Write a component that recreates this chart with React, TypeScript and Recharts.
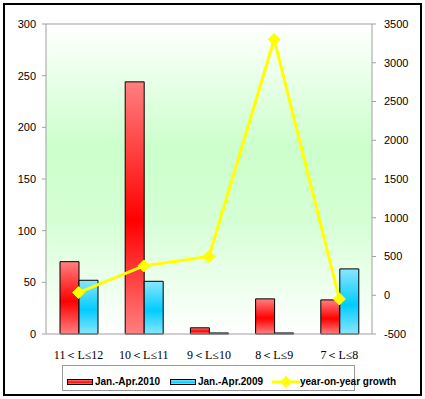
import {
  ComposedChart, Bar, Line, XAxis, YAxis, CartesianGrid, ReferenceLine,
} from "recharts";

const categories = ["11＜L≤12", "10＜L≤11", "9＜L≤10", "8＜L≤9", "7＜L≤8"];
const sales2010 = [70, 244, 6, 34, 33];
const sales2009 = [52, 51, 1, 1, 63];
const growth = [34.6, 378.4, 500, 3300, -47.6];
const leftTicks = [0, 50, 100, 150, 200, 250, 300];
const rightTicks = [-500, 0, 500, 1000, 1500, 2000, 2500, 3000, 3500];

const data = categories.map((name, i) => ({
  name,
  y2010: sales2010[i],
  y2009: sales2009[i],
  growth: growth[i],
}));

const axisColor = "#a0a0a0";
const tickFont = { fontSize: 11, fill: "#000", fontFamily: "Liberation Sans, Arial, sans-serif" };

function Diamond(props: any) {
  const { cx, cy } = props;
  if (cx == null || cy == null) return null;
  const s = 6;
  return (
    <polygon
      points={`${cx},${cy - s} ${cx + s},${cy} ${cx},${cy + s} ${cx - s},${cy}`}
      fill="#ffff00"
      stroke="#ffff00"
    />
  );
}

function LegendBox() {
  const text = {
    position: "absolute" as const,
    top: 376,
    fontFamily: "Liberation Sans, Arial, sans-serif",
    fontSize: 10,
    lineHeight: "12px",
    fontWeight: 700,
    color: "#000",
    whiteSpace: "nowrap" as const,
  };
  const swatch = {
    position: "absolute" as const, top: 379, width: 26, height: 6,
    border: "1px solid #000", boxSizing: "border-box" as const,
  };
  return (
    <>
      <div
        style={{
          position: "absolute", left: 62, top: 365, width: 293, height: 26,
          border: "1px solid #999", boxSizing: "border-box",
        }}
      />
      <div style={{ ...swatch, left: 67, background: "linear-gradient(#ff8080, #ff0000 55%, #ff8080)" }} />
      <span style={{ ...text, left: 95 }}>Jan.-Apr.2010</span>
      <div style={{ ...swatch, left: 170, background: "linear-gradient(#80e6ff, #00ccff 55%, #80e6ff)" }} />
      <span style={{ ...text, left: 198 }}>Jan.-Apr.2009</span>
      <svg width={28} height={12} style={{ position: "absolute", left: 272, top: 376 }}>
        <line x1={0} y1={6} x2={28} y2={6} stroke="#ffff00" strokeWidth={3} />
        <polygon points="14,0 20,6 14,12 8,6" fill="#ffff00" />
      </svg>
      <span style={{ ...text, left: 300 }}>year-on-year growth</span>
    </>
  );
}

export default function App() {
  return (
    <div style={{ position: "fixed", left: 0, top: 0, width: 425, height: 399, background: "#fff" }}>
      <div
        style={{
          position: "absolute", left: 3, top: 3, width: 419, height: 393,
          border: "2px solid #000", boxSizing: "border-box",
        }}
      />
      <div style={{ position: "absolute", left: 0, top: 0 }}>
        <ComposedChart
          width={425}
          height={399}
          data={data}
          margin={{ top: 24, right: 0, bottom: 35, left: 0 }}
          barGap={0}
          barSize={19}
        >
          <defs>
            <linearGradient id="bgGrad" x1="0" y1="0" x2="0" y2="1">
              <stop offset="0%" stopColor="#ffffff" />
              <stop offset="40%" stopColor="#ccffcc" />
              <stop offset="62%" stopColor="#d4ffd4" />
              <stop offset="100%" stopColor="#ffffff" />
            </linearGradient>
            <linearGradient id="redGrad" x1="0" y1="0" x2="0" y2="1">
              <stop offset="0%" stopColor="#ff8080" />
              <stop offset="55%" stopColor="#ff0000" />
              <stop offset="100%" stopColor="#ff8080" />
            </linearGradient>
            <linearGradient id="blueGrad" x1="0" y1="0" x2="0" y2="1">
              <stop offset="0%" stopColor="#8ae6ff" />
              <stop offset="55%" stopColor="#00ccff" />
              <stop offset="100%" stopColor="#8ae6ff" />
            </linearGradient>
          </defs>
          <CartesianGrid horizontal={false} vertical={false} fill="url(#bgGrad)" />
          <XAxis
            dataKey="name"
            height={30}
            stroke={axisColor}
            tickLine={false}
            tickMargin={10}
            tick={{ fontSize: 12, fill: "#000", fontFamily: "Liberation Serif, serif" }}
          />
          <YAxis
            yAxisId="left"
            width={46}
            domain={[0, 300]}
            ticks={leftTicks}
            stroke={axisColor}
            tickSize={4}
            tickMargin={6}
            tick={tickFont}
          />
          <YAxis
            yAxisId="right"
            orientation="right"
            width={53}
            domain={[-500, 3500]}
            ticks={rightTicks}
            stroke={axisColor}
            tickSize={4}
            tickMargin={8}
            tick={tickFont}
          />
          <ReferenceLine yAxisId="left" y={300} stroke={axisColor} />
          <Bar yAxisId="left" dataKey="y2010" fill="url(#redGrad)" stroke="#000" strokeWidth={1} isAnimationActive={false} />
          <Bar yAxisId="left" dataKey="y2009" fill="url(#blueGrad)" stroke="#000" strokeWidth={1} isAnimationActive={false} />
          <Line
            yAxisId="right"
            dataKey="growth"
            stroke="#ffff00"
            strokeWidth={3}
            dot={<Diamond />}
            activeDot={false}
            type="linear"
            isAnimationActive={false}
          />
        </ComposedChart>
      </div>
      <LegendBox />
    </div>
  );
}
